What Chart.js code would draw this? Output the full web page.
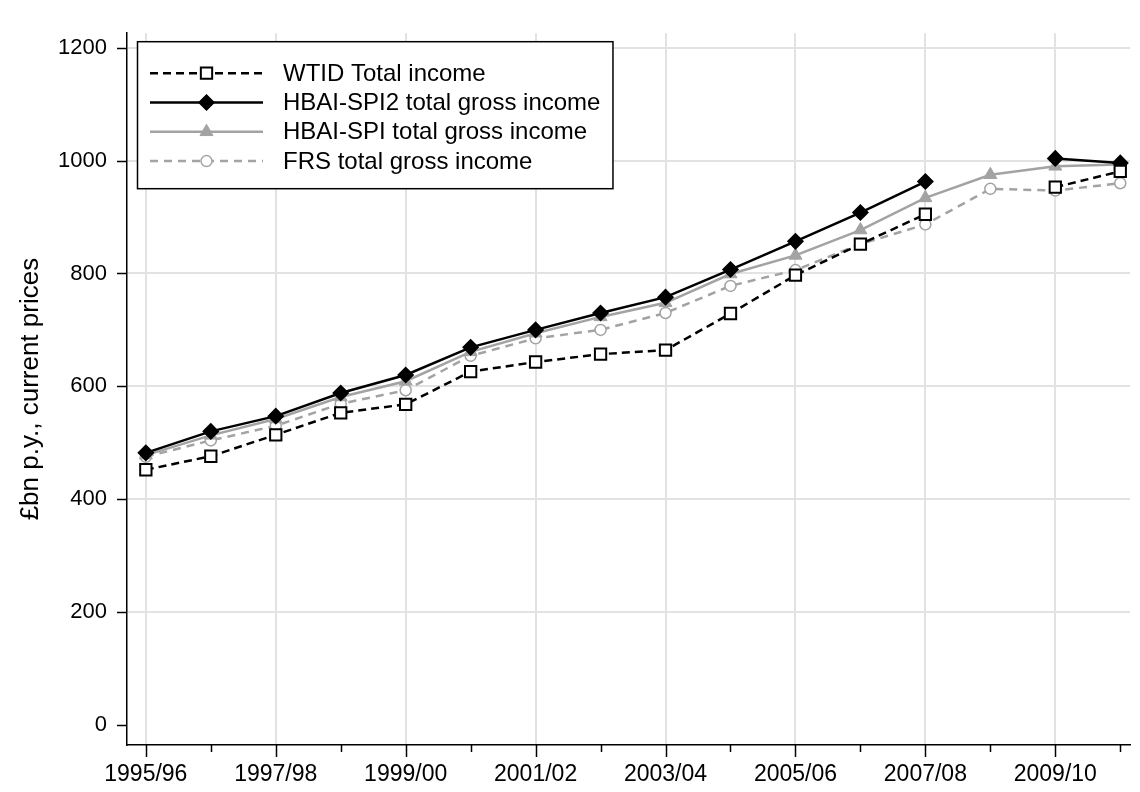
<!DOCTYPE html>
<html>
<head>
<meta charset="utf-8">
<script src="https://cdn.jsdelivr.net/npm/chart.js@4.4.1/dist/chart.umd.min.js"></script>
<style>
  html, body { margin: 0; padding: 0; background: #fff; }
  #wrap { width: 1140px; height: 792px; position: relative; }
</style>
</head>
<body>
<div id="wrap"><canvas id="c" width="1140" height="792"></canvas></div>
<script>
const categories = ["1995/96","1996/97","1997/98","1998/99","1999/00","2000/01","2001/02","2002/03",
                    "2003/04","2004/05","2005/06","2006/07","2007/08","2008/09","2009/10","2010/11"];
const wtidTotal  = [452, 476, 514, 553, 568, 626, 643, 657, 664, 729, 797, 852, 905, null, 953, 981];
const hbaiSpi2   = [482, 520, 547, 588, 620, 669, 700, 730, 758, 807, 857, 908, 963, null, 1004, 996];
const hbaiSpi    = [478, 513, 542, 581, 609, 661, 694, 723, 748, 799, 832, 877, 934, 975, 990, 993];
const frsTotal   = [475, 504, 530, 569, 593, 654, 685, 700, 730, 778, 806, 852, 887, 950, 947, 960];
const yTickValues = [0, 200, 400, 600, 800, 1000, 1200];
const seriesLabels = ["WTID Total income", "HBAI-SPI2 total gross income", "HBAI-SPI total gross income", "FRS total gross income"];

const FONT = '"Liberation Sans", Arial, Helvetica, sans-serif';
const GREY = '#a3a3a3';
const toXY = arr => arr.map((v, i) => ({ x: i, y: v }));

const tickPlugin = {
  id: 'axisTicks',
  afterDraw(chart) {
    const { ctx, scales: { x, y }, chartArea } = chart;
    ctx.save();
    ctx.strokeStyle = '#000';
    ctx.lineWidth = 1.5;
    categories.forEach((c, i) => {
      const px = Math.round(x.getPixelForValue(i)) + 0.5;
      const len = i % 2 === 0 ? 12 : 7;
      ctx.beginPath();
      ctx.moveTo(px, chartArea.bottom);
      ctx.lineTo(px, chartArea.bottom + len);
      ctx.stroke();
    });
    yTickValues.forEach(v => {
      const py = Math.round(y.getPixelForValue(v)) + 0.5;
      ctx.beginPath();
      ctx.moveTo(chartArea.left - 10, py);
      ctx.lineTo(chartArea.left, py);
      ctx.stroke();
    });
    ctx.restore();
  }
};

const legendPlugin = {
  id: 'boxLegend',
  afterDraw(chart) {
    const { ctx, chartArea } = chart;
    const bx = chartArea.left + 10, by = chartArea.top + 8, bh = 147;
    ctx.save();
    ctx.font = '24px ' + FONT;
    let maxW = 0;
    chart.data.datasets.forEach(ds => { maxW = Math.max(maxW, ctx.measureText(ds.label).width); });
    const bw = 146 + maxW + 12;
    ctx.fillStyle = '#fff';
    ctx.fillRect(bx, by, bw, bh);
    ctx.strokeStyle = '#000';
    ctx.lineWidth = 1.5;
    ctx.strokeRect(bx + 0.5, by + 0.5, bw, bh);
    chart.data.datasets.forEach((ds, i) => {
      const ly = by + 32 + i * 29.3;
      const x0 = bx + 13, x1 = bx + 126, xm = (x0 + x1) / 2;
      ctx.beginPath();
      ctx.setLineDash(ds.borderDash || []);
      ctx.strokeStyle = ds.borderColor;
      ctx.lineWidth = ds.borderWidth;
      ctx.moveTo(x0, ly);
      ctx.lineTo(x1, ly);
      ctx.stroke();
      ctx.setLineDash([]);
      ctx.fillStyle = ds.pointBackgroundColor;
      ctx.strokeStyle = ds.pointBorderColor;
      ctx.lineWidth = ds.pointBorderWidth;
      Chart.helpers.drawPoint(ctx, { pointStyle: ds.pointStyle, radius: ds.pointRadius, borderWidth: ds.pointBorderWidth, rotation: 0 }, xm, ly);
      ctx.fillStyle = '#000';
      ctx.font = '24px ' + FONT;
      ctx.textBaseline = 'middle';
      ctx.textAlign = 'left';
      ctx.fillText(ds.label, bx + 146, ly + 1);
    });
    ctx.restore();
  }
};

new Chart(document.getElementById('c'), {
  type: 'line',
  data: {
    datasets: [
      { label: seriesLabels[0], data: toXY(wtidTotal), borderColor: '#000', borderWidth: 2.5, borderDash: [8, 5],
        pointStyle: 'rect', pointRadius: 8, pointBorderWidth: 2, pointBackgroundColor: '#fff', pointBorderColor: '#000', spanGaps: false },
      { label: seriesLabels[1], data: toXY(hbaiSpi2), borderColor: '#000', borderWidth: 2.5,
        pointStyle: 'rectRot', pointRadius: 7.5, pointBorderWidth: 1.5, pointBackgroundColor: '#000', pointBorderColor: '#000', spanGaps: false },
      { label: seriesLabels[2], data: toXY(hbaiSpi), borderColor: GREY, borderWidth: 2.5,
        pointStyle: 'triangle', pointRadius: 7.5, pointBorderWidth: 1, pointBackgroundColor: GREY, pointBorderColor: GREY, spanGaps: false },
      { label: seriesLabels[3], data: toXY(frsTotal), borderColor: GREY, borderWidth: 2.5, borderDash: [8, 6],
        pointStyle: 'circle', pointRadius: 5.5, pointBorderWidth: 1.5, pointBackgroundColor: '#fff', pointBorderColor: GREY, spanGaps: false }
    ]
  },
  options: {
    responsive: false,
    animation: false,
    events: [],
    layout: { padding: { top: 10, right: 0, left: 0, bottom: 0 } },
    plugins: { legend: { display: false }, tooltip: { enabled: false } },
    elements: { line: { tension: 0 } },
    scales: {
      x: {
        type: 'linear',
        min: -0.29, max: 15.15,
        afterBuildTicks: s => { s.ticks = categories.map((_, i) => ({ value: i })); },
        afterFit: s => { s.height = 47; },
        grid: { color: c => (c.tick && c.tick.value % 2 === 0) ? '#e2e2e2' : 'rgba(0,0,0,0)', lineWidth: 2, drawTicks: false },
        border: { color: '#000', width: 1.5 },
        ticks: {
          autoSkip: false, maxRotation: 0, minRotation: 0, padding: 16,
          color: '#000', font: { family: FONT, size: 23 },
          callback: v => (Number.isInteger(v) && v % 2 === 0) ? categories[v] : ''
        }
      },
      y: {
        min: -36, max: 1226,
        afterBuildTicks: s => { s.ticks = yTickValues.map(v => ({ value: v })); },
        afterFit: s => { s.width = 127; },
        grid: { color: c => (c.tick && c.tick.value > 0) ? '#e2e2e2' : 'rgba(0,0,0,0)', lineWidth: 2, drawTicks: false },
        border: { color: '#000', width: 1.5 },
        ticks: { padding: 20, color: '#000', font: { family: FONT, size: 22 }, callback: v => String(v) },
        title: { display: true, text: '£bn p.y., current prices', color: '#000',
                 font: { family: FONT, size: 26 }, padding: { top: 15, bottom: 0 } }
      }
    }
  },
  plugins: [tickPlugin, legendPlugin]
});
</script>
</body>
</html>
